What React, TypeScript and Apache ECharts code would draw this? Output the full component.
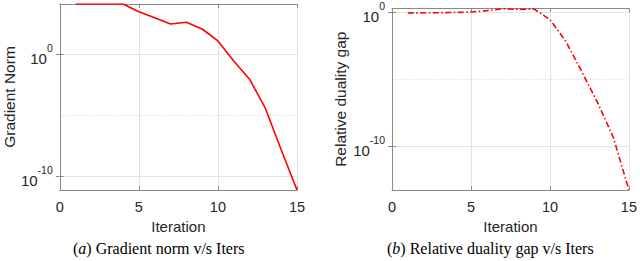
import React, { useEffect, useRef } from "react";
import * as echarts from "echarts";

const iterations = [1, 2, 3, 4, 5, 6, 7, 8, 9, 10, 11, 12, 13, 14, 15];
const gradientNorm = [
  1.32e4, 1.32e4, 1.32e4, 1.32e4, 3.1e3, 1.0e3, 3.0e2, 4.2e2, 1.17e2, 12.3,
  0.28, 8.9e-3, 3.7e-5, 1.45e-8, 7.1e-12,
];
const dualityGap = [
  0.85, 0.87, 0.89, 0.93, 1.0, 1.26, 1.74, 1.55, 1.66, 0.275, 6.6e-3, 3.9e-5,
  1.95e-7, 5.0e-10, 5.5e-14,
];
const xTicks = [0, 5, 10, 15];
const yTickValues = [1e-10, 1];
const minorGridValues = [1e-5];
const leftRange = [7.1e-12, 1.32e4];
const rightRange = [5.5e-14, 1.86];
const captions = ["Gradient norm v/s Iters", "Relative duality gap v/s Iters"];
const captionTags = ["a", "b"];
const yNames = ["Gradient Norm", "Relative duality gap"];
const xName = "Iteration";

const SANS = '"Liberation Sans", Arial, Helvetica, sans-serif';
const SERIF = '"Liberation Serif", "Times New Roman", serif';
const AXIS_COLOR = "#8a8a8a";
const TEXT_COLOR = "#262626";
const GRID_COLOR = "#e3e3e3";

function yLabelFormatter(v: number) {
  const e = Math.round(Math.log10(v));
  return `{b|10}{s|${e}}`;
}

const yRich = {
  b: { fontSize: 15, fontFamily: SANS, color: TEXT_COLOR, verticalAlign: "bottom", lineHeight: 24 },
  s: { fontSize: 10.5, fontFamily: SANS, color: TEXT_COLOR, verticalAlign: "top", lineHeight: 24 },
};

function buildAxes(gridIndex: number, range: number[], yName: string, nameGap: number) {
  const xMain = {
    type: "value",
    gridIndex,
    min: xTicks[0],
    max: xTicks[xTicks.length - 1],
    interval: xTicks[1] - xTicks[0],
    position: "bottom",
    name: xName,
    nameLocation: "middle",
    nameGap: 28,
    nameTextStyle: { fontSize: 15, fontFamily: SANS, color: TEXT_COLOR },
    axisLine: { show: true, lineStyle: { color: AXIS_COLOR, width: 1 } },
    axisTick: { show: true, inside: true, length: 4, lineStyle: { color: AXIS_COLOR } },
    axisLabel: { fontSize: 14.5, fontFamily: SANS, color: TEXT_COLOR, margin: 9 },
    splitLine: { show: true, lineStyle: { color: GRID_COLOR, width: 1 } },
  };
  const xMirror = {
    type: "value",
    gridIndex,
    min: xTicks[0],
    max: xTicks[xTicks.length - 1],
    interval: xTicks[1] - xTicks[0],
    position: "top",
    axisLine: { show: true, lineStyle: { color: AXIS_COLOR, width: 1 } },
    axisTick: { show: true, inside: true, length: 4, lineStyle: { color: AXIS_COLOR } },
    axisLabel: { show: false },
    splitLine: { show: false },
  };
  const yMain = {
    type: "log",
    logBase: 10,
    gridIndex,
    min: range[0],
    max: range[1],
    position: "left",
    name: yName,
    nameLocation: "middle",
    nameGap,
    nameTextStyle: { fontSize: 15.5, fontFamily: SANS, color: TEXT_COLOR },
    axisLine: { show: true, lineStyle: { color: AXIS_COLOR, width: 1 } },
    axisTick: {
      show: true,
      inside: true,
      length: 4,
      customValues: yTickValues,
      lineStyle: { color: AXIS_COLOR },
    },
    axisLabel: {
      customValues: yTickValues,
      formatter: yLabelFormatter,
      rich: yRich,
      margin: 7,
    },
    splitLine: { show: true, lineStyle: { color: GRID_COLOR, width: 1 } },
    minorTick: { show: false },
    minorSplitLine: { show: false },
    z: 3,
  };
  const yMirror = {
    type: "log",
    logBase: 10,
    gridIndex,
    min: range[0],
    max: range[1],
    position: "right",
    axisLine: { show: true, lineStyle: { color: AXIS_COLOR, width: 1 } },
    axisTick: {
      show: true,
      inside: true,
      length: 4,
      customValues: yTickValues,
      lineStyle: { color: AXIS_COLOR },
    },
    axisLabel: { show: false },
    splitLine: { show: false },
  };
  const yMinor = {
    type: "log",
    logBase: 10,
    gridIndex,
    min: range[0],
    max: range[1],
    position: "right",
    axisLine: { show: false },
    axisTick: { show: false, customValues: minorGridValues },
    axisLabel: { show: false, customValues: minorGridValues },
    splitLine: { show: true, lineStyle: { color: "#d4d4d4", width: 1, type: [1, 2] } },
    z: 1,
  };
  return { x: [xMain, xMirror], y: [yMain, yMirror, yMinor] };
}

function captionGraphic(x: number, tag: string, text: string) {
  return {
    type: "text",
    left: x,
    top: 240,
    style: {
      text: `{n|(}{i|${tag}}{n|) ${text}}`,
      rich: {
        n: { fontSize: 16, fontFamily: SERIF, fill: "#000" },
        i: { fontSize: 16, fontFamily: SERIF, fontStyle: "italic", fill: "#000" },
      },
      fill: "#000",
      fontSize: 16,
      fontFamily: SERIF,
    },
  };
}

export default function App() {
  const ref = useRef<HTMLDivElement>(null);
  useEffect(() => {
    if (!ref.current) return;
    const chart = echarts.init(ref.current, null, { renderer: "svg" });
    const a = buildAxes(0, leftRange, yNames[0], 42);
    const b = buildAxes(1, rightRange, yNames[1], 44);
    chart.setOption({
      animation: false,
      backgroundColor: "#ffffff",
      grid: [
        { left: 59, right: 343, top: 4, bottom: 71, containLabel: false },
        { left: 392, right: 9, top: 4, bottom: 71, containLabel: false },
      ],
      xAxis: [...a.x, ...b.x],
      yAxis: [...a.y, ...b.y],
      series: [
        {
          type: "line",
          xAxisIndex: 0,
          yAxisIndex: 0,
          data: iterations.map((it, i) => [it, gradientNorm[i]]),
          showSymbol: false,
          lineStyle: { color: "#ff0000", width: 1.6 },
          itemStyle: { color: "#ff0000" },
          z: 5,
        },
        {
          type: "line",
          xAxisIndex: 2,
          yAxisIndex: 3,
          data: iterations.map((it, i) => [it, dualityGap[i]]),
          showSymbol: false,
          lineStyle: { color: "#ff0000", width: 1.6, type: [6, 2.5, 1.5, 2.5] },
          itemStyle: { color: "#ff0000" },
          z: 5,
        },
      ],
      graphic: [
        captionGraphic(73, captionTags[0], captions[0]),
        captionGraphic(387, captionTags[1], captions[1]),
      ],
    });
    return () => chart.dispose();
  }, []);
  return (
    <div
      ref={ref}
      style={{ position: "absolute", left: 0, top: 0, width: 640, height: 261 }}
    />
  );
}
